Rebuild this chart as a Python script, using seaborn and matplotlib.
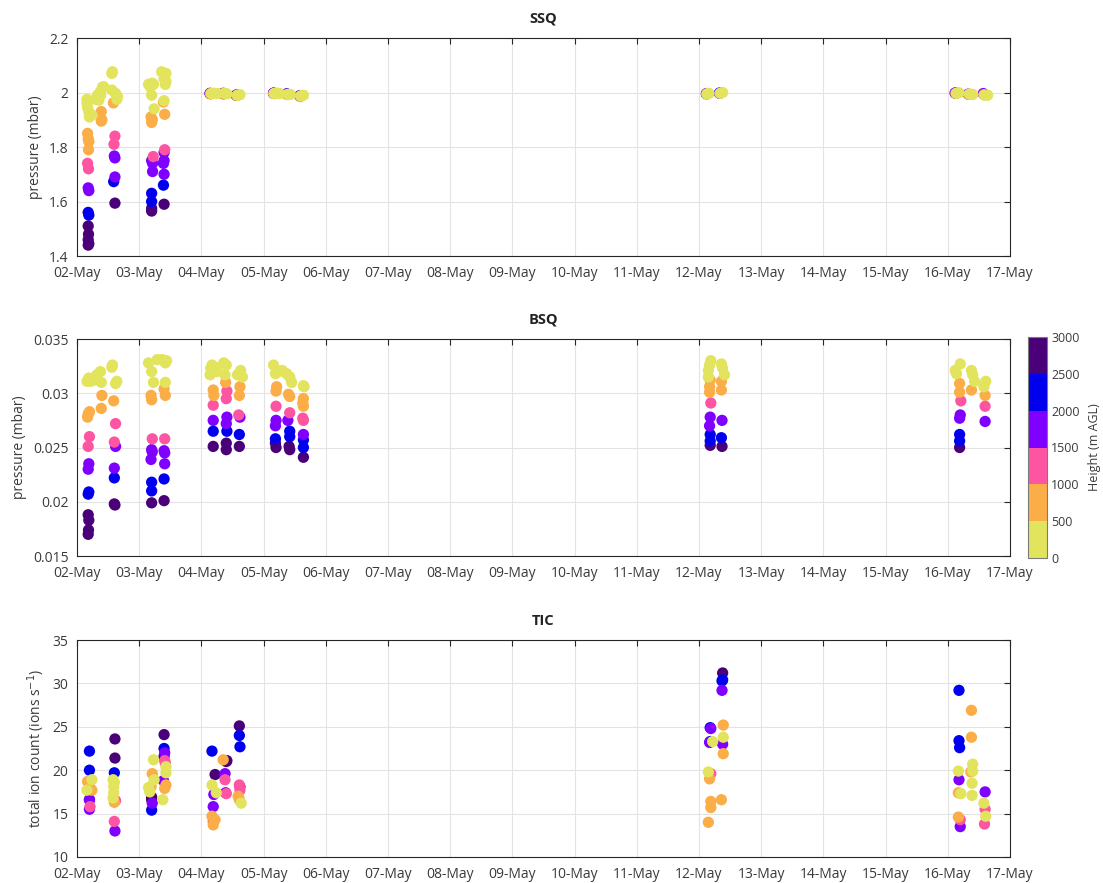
import numpy as np
import pandas as pd
import matplotlib
matplotlib.use("Agg")
import matplotlib.pyplot as plt
import matplotlib.dates as mdates
from matplotlib.colors import ListedColormap, BoundaryNorm
from matplotlib.cm import ScalarMappable
from matplotlib.ticker import FuncFormatter
import seaborn as sns

# ---------------------------------------------------------------------------
# Profile data: time (days after 02-May 00:00), sample height (m AGL), value
# ---------------------------------------------------------------------------
START = pd.Timestamp("2019-05-02")
END = pd.Timestamp("2019-05-17")

ssq_day = [
    0.18, 0.19, 0.18, 0.185, 0.18, 0.18, 0.19, 0.18, 0.19, 0.17, 0.185, 0.17, 0.18, 0.19, 0.185, 0.39, 0.39, 0.40,
    0.16, 0.16, 0.17, 0.19, 0.20, 0.24, 0.30, 0.33, 0.35, 0.375, 0.41, 0.43, 0.38,
    0.61, 0.59, 0.61, 0.60, 0.61, 0.61, 0.595, 0.585, 0.57, 0.56, 0.56, 0.62, 0.64, 0.65,
    1.20, 1.20, 1.20, 1.20, 1.215, 1.215, 1.20, 1.225, 1.20, 1.21, 1.19, 1.24, 1.20, 1.15, 1.21, 1.23, 1.18,
    1.40, 1.39, 1.40, 1.39, 1.40, 1.40, 1.41, 1.41, 1.39, 1.40, 1.42, 1.43, 1.40, 1.41, 1.36, 1.43,
    2.14, 2.14, 2.145, 2.15, 2.16, 2.20, 2.26, 2.35, 2.35, 2.355, 2.36, 2.37, 2.41, 2.56, 2.565, 2.57, 2.58, 2.62,
    3.16, 3.16, 3.165, 3.17, 3.21, 3.26, 3.37, 3.375, 3.38, 3.39, 3.43, 3.58, 3.585, 3.59, 3.60, 3.64,
    10.12, 10.12, 10.125, 10.13, 10.16, 10.33, 10.335, 10.34, 10.38,
    14.12, 14.12, 14.13, 14.14, 14.18, 14.33, 14.34, 14.35, 14.40, 14.57, 14.58, 14.59, 14.64,
]
ssq_height = [
    2950, 2900, 2850, 2750, 2650, 2300, 2150, 1900, 1700, 1400, 1150, 950, 900, 800, 650, 700, 600, 550,
    450, 420, 380, 350, 320, 300, 250, 200, 180, 150, 120, 100, 130,
    2750, 2200, 1900, 1650, 1600, 1400, 1100, 600, 450, 400, 300, 250, 200, 150,
    2850, 2750, 2300, 2200, 1900, 1700, 1600, 1350, 700, 650, 600, 350, 300, 250, 200, 150, 250,
    2750, 2250, 1900, 1800, 1700, 1650, 1300, 700, 600, 450, 350, 300, 250, 200, 150, 120,
    2800, 1700, 1250, 700, 300, 200, 150, 2800, 1700, 1250, 700, 300, 200, 2800, 1700, 700, 300, 200,
    2800, 1700, 700, 300, 200, 150, 2300, 1700, 700, 300, 200, 2800, 1700, 700, 300, 200,
    2800, 1700, 700, 300, 200, 2250, 1700, 300, 200,
    2800, 1700, 700, 300, 200, 1700, 700, 300, 200, 1700, 700, 300, 200,
]
ssq_value = [
    1.44, 1.445, 1.46, 1.48, 1.51, 1.56, 1.55, 1.65, 1.64, 1.74, 1.72, 1.85, 1.83, 1.82, 1.79, 1.93, 1.895, 1.90,
    1.975, 1.96, 1.945, 1.93, 1.91, 1.917, 1.975, 1.99, 1.972, 2.003, 2.02, 2.021, 1.99,
    1.594, 1.673, 1.69, 1.767, 1.76, 1.84, 1.81, 1.962, 2.076, 2.07, 2.009, 1.997, 1.975, 1.985,
    1.565, 1.575, 1.60, 1.63, 1.71, 1.74, 1.75, 1.765, 1.89, 1.90, 1.91, 1.94, 1.99, 2.03, 2.034, 2.03, 2.02,
    1.59, 1.66, 1.70, 1.74, 1.75, 1.78, 1.79, 1.92, 1.965, 1.97, 2.03, 2.04, 2.05, 2.06, 2.076, 2.07,
    1.996, 1.997, 1.996, 1.995, 1.996, 1.997, 1.996, 1.997, 1.996, 1.995, 1.996, 1.997, 1.995, 1.990, 1.991, 1.989, 1.990, 1.992,
    1.997, 1.998, 1.996, 1.996, 1.998, 1.996, 1.995, 1.994, 1.993, 1.992, 1.993, 1.988, 1.987, 1.985, 1.988, 1.990,
    1.995, 1.996, 1.995, 1.994, 1.997, 1.998, 1.997, 1.997, 2.000,
    1.998, 1.998, 1.997, 1.997, 1.999, 1.994, 1.993, 1.994, 1.993, 1.996, 1.992, 1.990, 1.990,
]

bsq_day = [
    0.18, 0.185, 0.19, 0.18, 0.18, 0.19, 0.18, 0.19, 0.18, 0.20, 0.17, 0.18, 0.20, 0.39, 0.40, 0.16, 0.19, 0.22, 0.27, 0.32, 0.375, 0.39, 0.30,
    0.61, 0.60, 0.60, 0.60, 0.62, 0.60, 0.62, 0.59, 0.62, 0.64, 0.56, 0.57,
    1.20, 1.20, 1.20, 1.19, 1.21, 1.20, 1.21, 1.20, 1.19, 1.23, 1.20, 1.15, 1.29,
    1.40, 1.40, 1.41, 1.41, 1.40, 1.41, 1.42, 1.40, 1.42, 1.37, 1.42, 1.44,
    2.19, 2.19, 2.19, 2.19, 2.19, 2.20, 2.15, 2.17, 2.14, 2.22, 2.25,
    2.40, 2.40, 2.41, 2.40, 2.41, 2.40, 2.41, 2.39, 2.36, 2.40, 2.38,
    2.61, 2.61, 2.62, 2.60, 2.61, 2.62, 2.63, 2.58, 2.66,
    3.20, 3.19, 3.19, 3.19, 3.20, 3.20, 3.20, 3.21, 3.16, 3.21, 3.19, 3.24,
    3.42, 3.41, 3.42, 3.42, 3.39, 3.42, 3.42, 3.40, 3.37, 3.42, 3.45, 3.30,
    3.64, 3.64, 3.64, 3.64, 3.64, 3.63, 3.64, 3.63, 3.64, 3.64, 3.65,
    10.18, 10.18, 10.18, 10.17, 10.18, 10.19, 10.17, 10.17, 10.18, 10.15, 10.15, 10.17, 10.19,
    10.37, 10.36, 10.37, 10.36, 10.36, 10.41, 10.38, 10.36,
    14.19, 14.19, 14.19, 14.19, 14.20, 14.21, 14.19, 14.19, 14.14, 14.12, 14.20,
    14.38, 14.38, 14.40, 14.43,
    14.60, 14.60, 14.60, 14.58, 14.61,
]
bsq_height = [
    2950, 2900, 2800, 2700, 2300, 2200, 1900, 1700, 1400, 1150, 950, 900, 800, 650, 600, 450, 400, 350, 300, 250, 200, 150, 180,
    2800, 2700, 2250, 1900, 1600, 1400, 1100, 700, 400, 300, 250, 200,
    2750, 2300, 2200, 1900, 1800, 1650, 1350, 750, 650, 400, 300, 250, 200,
    2750, 2250, 1900, 1750, 1650, 1300, 700, 600, 400, 300, 250, 200,
    2800, 2300, 1800, 1300, 800, 700, 400, 300, 250, 200, 150,
    2850, 2750, 2250, 1800, 1650, 1300, 1100, 700, 400, 300, 200,
    2800, 2250, 1700, 1300, 800, 700, 400, 300, 200,
    2850, 2750, 2250, 1800, 1650, 1300, 800, 700, 400, 300, 250, 200,
    2850, 2750, 2300, 2200, 1750, 1300, 800, 700, 350, 250, 200, 300,
    2800, 2400, 2200, 1600, 1350, 1200, 900, 800, 700, 300, 200,
    2800, 2300, 2200, 1750, 1600, 1300, 900, 800, 700, 400, 300, 250, 200,
    2800, 2250, 1700, 800, 700, 300, 250, 200,
    2800, 2300, 2200, 1800, 1700, 1300, 800, 700, 300, 250, 200,
    700, 300, 250, 200,
    1700, 1200, 700, 300, 200,
]
bsq_value = [
    0.0170, 0.0174, 0.0183, 0.0188, 0.0207, 0.0209, 0.0230, 0.0235, 0.0251, 0.0260, 0.0278, 0.0281, 0.0283, 0.0286, 0.0298,
    0.0311, 0.0314, 0.0311, 0.0312, 0.0317, 0.0320, 0.0310, 0.0315,
    0.0197, 0.0198, 0.0222, 0.0231, 0.0251, 0.0255, 0.0272, 0.0293, 0.0309, 0.0311, 0.0324, 0.0326,
    0.0199, 0.0210, 0.0218, 0.0239, 0.0246, 0.0248, 0.0258, 0.0294, 0.0298, 0.0310, 0.0320, 0.0328, 0.0331,
    0.0201, 0.0221, 0.0235, 0.0245, 0.0247, 0.0258, 0.0298, 0.0304, 0.0310, 0.0331, 0.0328, 0.0330,
    0.0251, 0.0265, 0.0275, 0.0289, 0.0303, 0.0298, 0.0323, 0.0326, 0.0317, 0.0324, 0.0320,
    0.0248, 0.0254, 0.0265, 0.0272, 0.0278, 0.0295, 0.0302, 0.0310, 0.0328, 0.0326, 0.0317,
    0.0251, 0.0262, 0.0278, 0.0280, 0.0298, 0.0306, 0.0321, 0.0317, 0.0315,
    0.0250, 0.0254, 0.0258, 0.0270, 0.0275, 0.0288, 0.0302, 0.0306, 0.0326, 0.0321, 0.0318, 0.0320,
    0.0248, 0.0251, 0.0260, 0.0265, 0.0275, 0.0282, 0.0297, 0.0299, 0.0318, 0.0315, 0.0310, 0.0321,
    0.0241, 0.0250, 0.0257, 0.0262, 0.0275, 0.0277, 0.0288, 0.0291, 0.0295, 0.0307, 0.0306,
    0.0252, 0.0256, 0.0262, 0.0270, 0.0278, 0.0291, 0.0301, 0.0306, 0.0312, 0.0315, 0.0321, 0.0326, 0.0330,
    0.0251, 0.0259, 0.0275, 0.0303, 0.0311, 0.0317, 0.0323, 0.0327,
    0.0250, 0.0256, 0.0262, 0.0277, 0.0280, 0.0293, 0.0301, 0.0309, 0.0318, 0.0321, 0.0327,
    0.0303, 0.0321, 0.0317, 0.0311,
    0.0274, 0.0288, 0.0298, 0.0306, 0.0311,
]

tic_day = [
    0.20, 0.20, 0.20, 0.20, 0.20, 0.20, 0.21, 0.17, 0.24, 0.24, 0.16,
    0.61, 0.61, 0.60, 0.61, 0.62, 0.60, 0.60, 0.58, 0.59, 0.59, 0.58, 0.60,
    1.20, 1.20, 1.20, 1.21, 1.21, 1.19, 1.23, 1.24, 1.15, 1.17,
    1.40, 1.40, 1.40, 1.41, 1.39, 1.41, 1.42, 1.41, 1.43, 1.43, 1.43, 1.38,
    2.17, 2.22, 2.17, 2.24, 2.20, 2.19, 2.19, 2.17, 2.19, 2.22,
    2.35, 2.40, 2.41, 2.38, 2.39, 2.38, 2.40,
    2.61, 2.61, 2.62, 2.61, 2.62, 2.62, 2.59, 2.61, 2.64,
    10.19, 10.18, 10.18, 10.17, 10.22, 10.15, 10.19, 10.17, 10.19, 10.19, 10.15,
    10.38, 10.38, 10.37, 10.37, 10.39, 10.39, 10.38, 10.39, 10.36,
    14.18, 14.18, 14.19, 14.17, 14.18, 14.17, 14.21, 14.17, 14.20, 14.20,
    14.38, 14.38, 14.40, 14.40, 14.37, 14.39, 14.39,
    14.60, 14.58, 14.60, 14.61, 14.59,
]
tic_height = [
    2800, 2700, 2250, 2200, 1800, 1700, 1300, 800, 700, 400, 300,
    2800, 2700, 2250, 1800, 1300, 1200, 800, 400, 350, 300, 250, 200,
    2800, 2700, 2250, 1800, 800, 700, 400, 300, 250, 200,
    2850, 2700, 2250, 1850, 1700, 1300, 1250, 800, 700, 400, 300, 200,
    2250, 2800, 400, 300, 1800, 1700, 1300, 800, 700, 600,
    700, 2800, 2750, 1800, 1700, 1300, 1200,
    2800, 2300, 2200, 1300, 1200, 1800, 800, 700, 300,
    1800, 2250, 2200, 1700, 300, 250, 1300, 800, 700, 650, 600,
    2800, 2300, 2200, 1800, 800, 300, 1700, 700, 600,
    2300, 2250, 2200, 300, 1800, 800, 250, 700, 1300, 1700,
    800, 750, 300, 250, 700, 200, 150,
    1800, 300, 1300, 250, 1200,
]
tic_value = [
    18.0, 16.6, 22.2, 20.0, 16.6, 15.5, 15.8, 18.7, 17.7, 18.9, 17.7,
    23.6, 21.4, 19.7, 13.0, 16.5, 14.1, 16.3, 18.9, 18.1, 17.4, 16.8, 18.6,
    16.9, 16.6, 15.4, 16.2, 19.6, 18.1, 21.2, 18.9, 18.0, 17.5,
    24.1, 21.6, 22.5, 22.0, 18.8, 21.1, 20.8, 17.9, 18.3, 20.4, 19.7, 16.6,
    22.2, 19.5, 18.3, 17.4, 17.2, 15.8, 14.1, 14.7, 13.7, 14.3,
    21.2, 21.0, 21.1, 19.6, 17.4, 18.9, 17.3,
    25.1, 24.0, 22.7, 18.3, 17.7, 18.1, 17.0, 16.6, 16.2,
    24.8, 24.9, 23.3, 23.2, 23.3, 19.8, 19.6, 19.0, 16.4, 15.7, 14.0,
    31.2, 30.4, 30.3, 29.2, 25.2, 23.8, 23.0, 21.9, 16.6,
    29.2, 23.4, 22.6, 19.9, 18.9, 17.4, 17.3, 14.6, 14.3, 13.5,
    26.9, 23.8, 20.7, 19.9, 19.8, 18.5, 17.1,
    17.5, 16.2, 15.5, 14.7, 13.8,
]

height_bounds = [0, 500, 1000, 1500, 2000, 2500, 3000]
height_colors = ["#e2e45e", "#fbad48", "#fe55a2", "#8000ff", "#0000ee", "#4a0078"]

# ---------------------------------------------------------------------------
sns.set_theme(style="white")
plt.rcParams["font.family"] = ["Open Sans", "DejaVu Sans"]
TEXT = "#3a3a3a"
AXC = "#262626"

height_cmap = ListedColormap(height_colors)
height_norm = BoundaryNorm(height_bounds, height_cmap.N)

fig = plt.figure(figsize=(11.03, 8.83), dpi=100)
W, H = 1103, 883


def box(left, top, right, bottom):
    return [left / W, 1 - bottom / H, (right - left) / W, (bottom - top) / H]


def panel(rect, day, height, value, title, ylabel, ylim, yticks):
    assert len(day) == len(height) == len(value)
    ax = fig.add_axes(rect)
    df = pd.DataFrame({
        "time": START + pd.to_timedelta(np.asarray(day), unit="D"),
        "height": height,
        "value": value,
    })
    df = df.sort_values("height", ascending=False, kind="stable")
    sns.scatterplot(data=df, x="time", y="value", hue="height",
                    palette=height_cmap, hue_norm=height_norm,
                    s=66, linewidth=0, legend=False, ax=ax, zorder=3)
    ax.set_xlim(START, END)
    ax.set_ylim(*ylim)
    ax.set_yticks(yticks)
    ax.yaxis.set_major_formatter(FuncFormatter(lambda v, _: f"{v:g}"))
    ax.xaxis.set_major_locator(mdates.DayLocator())
    ax.xaxis.set_major_formatter(mdates.DateFormatter("%d-%b"))
    ax.set_axisbelow(True)
    ax.grid(True, color="#e3e3e3", linewidth=0.8)
    ax.tick_params(direction="in", top=True, right=True, length=4.5, width=0.8,
                   color=AXC, labelcolor=TEXT, labelsize=10)
    ax.tick_params(axis="x", pad=7)
    ax.tick_params(axis="y", pad=6)
    for sp in ax.spines.values():
        sp.set_color(AXC)
        sp.set_linewidth(0.8)
    ax.set_title(title, fontsize=10.5, fontweight="bold", color="#222222", pad=11)
    ax.set_xlabel("")
    ax.set_ylabel(ylabel, fontsize=10, color=TEXT)
    return ax


panel(box(77, 38, 1010, 256), ssq_day, ssq_height, ssq_value,
      "SSQ", "pressure (mbar)", (1.4, 2.2), [1.4, 1.6, 1.8, 2.0, 2.2])
panel(box(77, 339, 1010, 556), bsq_day, bsq_height, bsq_value,
      "BSQ", "pressure (mbar)", (0.015, 0.035), [0.015, 0.02, 0.025, 0.03, 0.035])
panel(box(77, 640, 1010, 857), tic_day, tic_height, tic_value,
      "TIC", "total ion count (ions s$^{-1}$)", (10, 35), [10, 15, 20, 25, 30, 35])

cax = fig.add_axes(box(1028, 337, 1047, 558))
cb = fig.colorbar(ScalarMappable(norm=height_norm, cmap=height_cmap), cax=cax,
                  ticks=height_bounds)
cb.outline.set_edgecolor("#7a7a7a")
cb.outline.set_linewidth(0.8)
cax.tick_params(length=0, labelsize=9, labelcolor=TEXT, pad=3)
cb.set_label("Height (m AGL)", fontsize=9, color=TEXT, labelpad=6)

fig.savefig("out.png", dpi=100, facecolor="white")
